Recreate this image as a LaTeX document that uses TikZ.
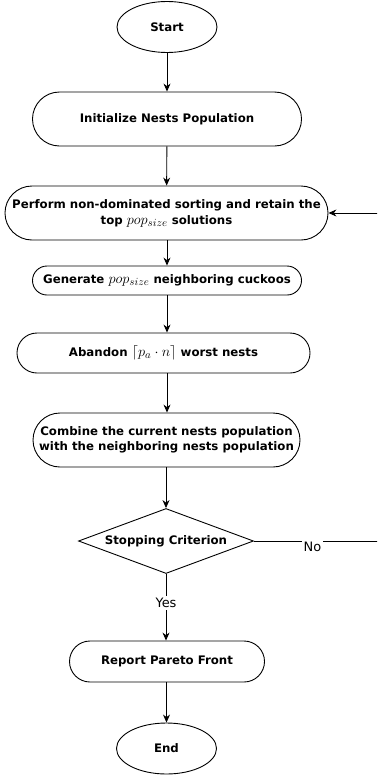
\documentclass[tikz,border=0pt]{standalone}
\usepackage{fontspec}
\setmainfont{DejaVu Sans}
\usetikzlibrary{shapes.geometric,arrows.meta,positioning}
\newcommand{\mymath}[1]{{\fontsize{15}{14.5}\selectfont$#1$}}
\tikzset{
  base/.style={draw, line width=0.9pt, font=\fontsize{11.8}{14.5}\selectfont\bfseries, align=center, inner sep=0pt},
  term/.style={base, ellipse, minimum width=100bp, minimum height=51bp},
  proc/.style={base, rounded corners=#1, minimum height=#1*2},
  dec/.style={base, diamond, aspect=2.7, minimum width=175bp, minimum height=65bp},
  arr/.style={line width=0.9pt, -{Stealth[length=8pt,width=7pt]}},
  lab/.style={font=\fontsize{13}{15}\selectfont, fill=white, inner sep=2pt}
}
\begin{document}
\begin{tikzpicture}[x=1bp,y=-1bp]
\useasboundingbox (0,0) rectangle (377,778);
\clip (0,0) rectangle (377,778);
\node[term] (start) at (167,27) {Start};
\node[proc=27bp, minimum width=269bp] (init) at (167,119) {Initialize Nests Population};
\node[proc=27bp, minimum width=323bp] (perf) at (166.5,213) {Perform non-dominated sorting and retain the\\[1.5bp]top \mymath{pop_{size}} solutions};
\node[proc=14.5bp, minimum width=269bp] (gen) at (167,280.5) {Generate \mymath{pop_{size}} neighboring cuckoos};
\node[proc=20bp, minimum width=293bp] (aban) at (163.5,353) {Abandon \mymath{\lceil p_a\cdot n\rceil} worst nests};
\node[proc=27bp, minimum width=267bp] (comb) at (166.5,440) {Combine the current nests population\\with the neighboring nests population};
\node[dec] (stop) at (166,541) {Stopping Criterion};
\node[proc=20.5bp, minimum width=195bp] (rep) at (167,661.5) {Report Pareto Front};
\node[term] (end) at (166.5,748.5) {End};
\coordinate (loopA) at (390,541);
\coordinate (loopB) at (390,213);
\draw[arr] (start) -- (init);
\draw[arr] (init) -- (perf);
\draw[arr] (perf.south -| gen.north) -- (gen);
\draw[arr] (gen) -- (aban.north -| gen.south);
\draw[arr] (aban.south -| gen.south) -- (comb.north -| gen.south);
\draw[arr] (comb.south -| stop.north) -- (stop);
\draw[arr] (stop) -- node[lab, pos=0.44]{Yes} (rep.north -| stop.south);
\draw[arr] (rep.south -| end.north) -- (end);
\draw[arr] (stop.east) -- node[lab, pos=0.43, yshift=-6bp]{No} (loopA) -- (loopB) -- (perf.east);
\end{tikzpicture}
\end{document}
